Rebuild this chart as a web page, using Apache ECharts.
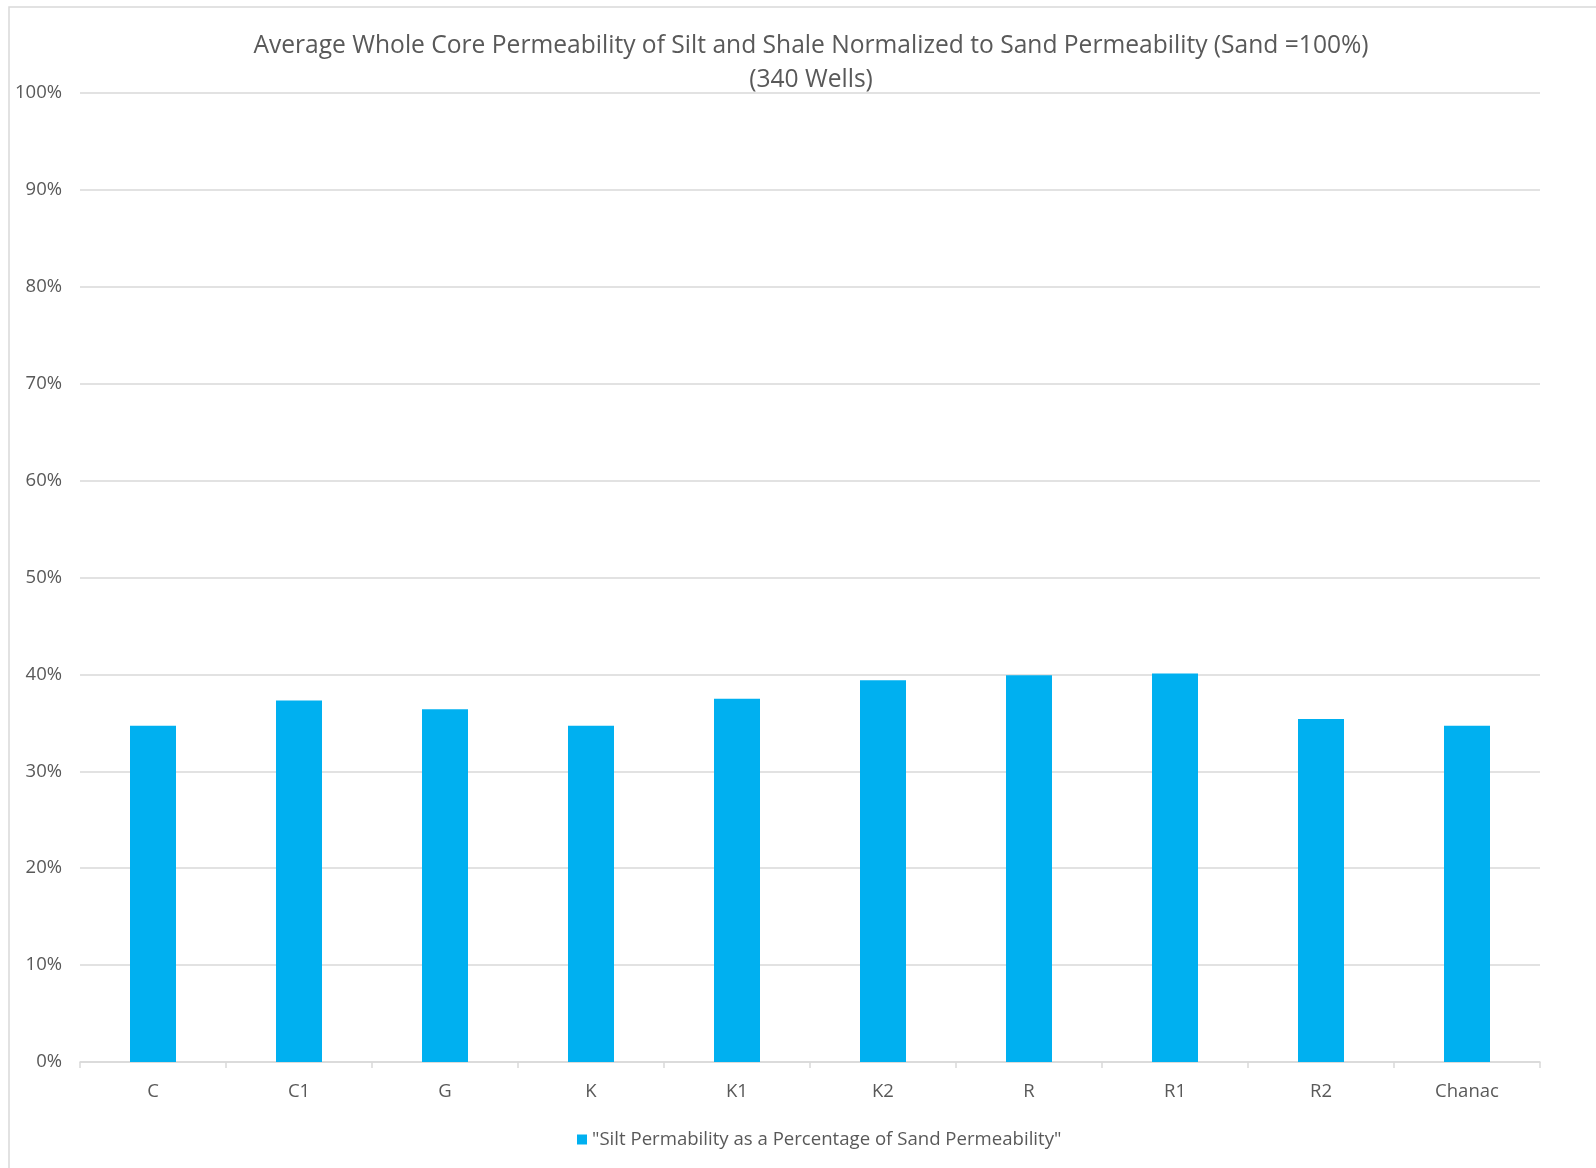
<!DOCTYPE html>
<html>
<head>
<meta charset="utf-8">
<title>Average Whole Core Permeability</title>
<script src="https://cdn.jsdelivr.net/npm/echarts@6/dist/echarts.min.js"></script>
<style>
    html, body { margin: 0; padding: 0; background: #fff; }
    #chart { width: 1596px; height: 1168px; }
</style>
</head>
<body>
<div id="chart"></div>
<script>
// data
var categories = ['C', 'C1', 'G', 'K', 'K1', 'K2', 'R', 'R1', 'R2', 'Chanac'];
var siltPct = [34.7, 37.3, 36.4, 34.7, 37.5, 39.4, 39.9, 40.1, 35.4, 34.7];
var seriesName = '"Silt Permability as a Percentage of Sand Permeability"';
var titleLines = ['Average Whole Core Permeability of Silt and Shale Normalized to Sand Permeability (Sand =100%)', '(340 Wells)'];

var textGrey = '#595959';
var gridGrey = '#d9d9d9';
var fontName = 'Open Sans';

var myChart = echarts.init(document.getElementById('chart'));

var option = {
    backgroundColor: '#fff',
    animation: false,
    graphic: [{
        type: 'rect',
        shape: {x: 9, y: 7, width: 1620, height: 1200},
        style: {fill: 'none', stroke: '#d9d9d9', lineWidth: 1.5},
        silent: true
    }],
    title: {
        text: titleLines.join('\n'),
        left: 806,
        top: 24,
        textAlign: 'center',
        textStyle: {
            fontFamily: fontName,
            fontSize: 24.6,
            fontWeight: 'normal',
            color: textGrey,
            lineHeight: 34
        }
    },
    legend: {
        data: [seriesName],
        bottom: 14,
        left: 572,
        icon: 'rect',
        itemWidth: 10,
        itemHeight: 10,
        itemGap: 6,
        textStyle: {fontFamily: fontName, fontSize: 18.6, color: textGrey}
    },
    grid: {
        left: 80,
        right: 56,
        top: 93,
        bottom: 106,
        containLabel: false
    },
    xAxis: [{
        type: 'category',
        data: categories,
        axisLine: {lineStyle: {color: gridGrey, width: 1.5}},
        axisTick: {show: true, alignWithLabel: false, length: 6, lineStyle: {color: gridGrey, width: 1.5}},
        axisLabel: {fontFamily: fontName, fontSize: 18.5, color: textGrey, margin: 20}
    }],
    yAxis: [{
        type: 'value',
        min: 0,
        max: 100,
        interval: 10,
        axisLine: {show: false},
        axisTick: {show: false},
        axisLabel: {formatter: '{value}%', fontFamily: fontName, fontSize: 18.5, color: textGrey, margin: 18},
        splitLine: {lineStyle: {color: gridGrey, width: 1.5}}
    }],
    series: [{
        name: seriesName,
        type: 'bar',
        barWidth: 46,
        itemStyle: {color: '#00b0f0'},
        data: siltPct
    }]
};

myChart.setOption(option);
</script>
</body>
</html>
